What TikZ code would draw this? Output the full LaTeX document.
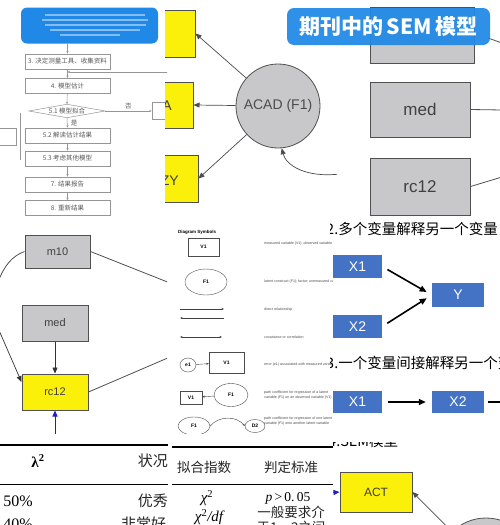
\documentclass[tikz,border=0pt]{standalone}
\usepackage{fontspec}
\setmainfont{Liberation Serif}
\newfontfamily\arial{Liberation Sans}
\newfontfamily\cjk{Noto Sans CJK SC}
\usetikzlibrary{arrows.meta,shapes.geometric}
\definecolor{semyellow}{RGB}{250,240,10}
\definecolor{semgray}{RGB}{200,200,202}
\definecolor{semedge}{RGB}{80,80,80}
\definecolor{titleblue}{RGB}{32,136,230}
\definecolor{boxblue}{RGB}{68,114,196}
\definecolor{flowline}{RGB}{150,150,150}
\definecolor{flowtext}{RGB}{90,90,90}
\definecolor{darkblue}{RGB}{30,30,200}
\begin{document}
\begin{tikzpicture}[x=1pt,y=-1pt,
  fbox/.style={draw=flowline, line width=0.5pt, minimum width=85pt, minimum height=15pt, inner sep=0pt, font=\cjk\fontsize{6.5}{7}\selectfont, text=flowtext},
  farr/.style={draw=flowline, line width=0.5pt, -{Stealth[length=2.5pt,width=2pt]}},
  yel/.style={draw=semedge, line width=1pt, fill=semyellow, inner sep=0pt, text=black!75},
  gry/.style={draw=semedge, line width=1pt, fill=semgray, inner sep=0pt, text=black!75},
  semline/.style={draw=semedge, line width=0.8pt},
  semarr/.style={draw=gray!60!black, line width=0.7pt, -{Triangle[length=6pt,width=5pt]}},
  bluearr/.style={draw=darkblue, line width=0.8pt, -{Triangle[length=6pt,width=5pt]}},
  bbox/.style={fill=boxblue, inner sep=0pt, text=white, font=\arial\fontsize{14}{16}\selectfont},
  barr/.style={line width=1.6pt, shorten >=6pt, shorten <=6pt, -{Triangle[length=7pt,width=6pt]}},
  leg/.style={font=\arial\fontsize{3.6}{4.2}\selectfont, text=black!70, anchor=west, inner sep=0pt, align=left},
  lbox/.style={draw=black!70, line width=0.4pt, inner sep=0pt, font=\arial\bfseries\fontsize{5}{6}\selectfont},
  lell/.style={draw=black!70, line width=0.4pt, ellipse, inner sep=0pt, font=\arial\bfseries\fontsize{5}{6}\selectfont},
  lnarr/.style={draw=black!75, line width=0.4pt, -{Stealth[length=2.5pt,width=2pt]}},
  cjkt/.style={font=\cjk\fontsize{14.5}{16}\selectfont, inner sep=0pt},
  tab/.style={font=\cjk\fontsize{13.5}{15}\selectfont, inner sep=0pt, text=black!85},
]
\useasboundingbox (0,0) rectangle (500,525);
\fill[white] (0,0) rectangle (500,525);

% ---------- Panel A: flowchart ----------
\begin{scope}
\clip (0,0) rectangle (167,224);
\node[fill=titleblue, rounded corners=6pt, minimum width=137pt, minimum height=36pt, inner sep=0pt] (blue) at (89.5,25.5) {};
\foreach \yy/\xa/\xb in {15/45/145, 20/42/148, 25/45/146, 30/50/140, 35/60/120}
  \draw[white, opacity=0.45, line width=1.2pt] (\xa,\yy) -- (\xb,\yy);
\node[fbox] (b3) at (67.5,61.5) {3. 决定测量工具、收集资料};
\node[fbox] (b4) at (67.5,86) {4. 模型估计};
\node[minimum width=76pt, minimum height=13pt, inner sep=0pt, font=\cjk\fontsize{6.5}{7}\selectfont, text=flowtext] (d51) at (67,111) {5.1 模型拟合};
\draw[flowline, line width=0.5pt] (d51.west) -- (d51.north) -- (d51.east) -- (d51.south) -- cycle;
\node[fbox] (b52) at (67.5,135.5) {5.2 解读估计结果};
\node[fbox] (b53) at (67.5,158.5) {5.3 考虑其他模型};
\node[fbox] (b7) at (67.5,184.5) {7. 结果报告};
\node[fbox] (b8) at (67.5,208) {8. 重新结果};
\node[fbox, minimum width=20pt, minimum height=17pt] (rbox) at (162,111) {};
\node[fbox, minimum width=20pt, minimum height=17pt] (lbox) at (6,136.5) {};
\draw[farr] (blue.south -| b3.north) -- (b3.north);
\draw[farr] (b3) -- (b4);
\draw[farr] (b4) -- (d51.north);
\draw[farr] (d51.south) -- (b52.north);
\draw[farr] (b52) -- (b53);
\draw[farr] (b53) -- (b7);
\draw[farr] (b7) -- (b8);
\draw[farr] (d51.east) -- node[above=2pt, font=\cjk\fontsize{6.5}{7}\selectfont, text=flowtext, inner sep=0pt] (no) {否} (rbox.west);
\node[font=\cjk\fontsize{6.5}{7}\selectfont, text=flowtext, inner sep=0pt] (yes) at (74,123) {是};
\coordinate (fb) at (168,72);
\draw[farr] (fb) -- (b3.south |- fb);
\draw[flowline, line width=0.5pt] (20,113) -- (20,160);
\end{scope}

% ---------- Panel B: ACAD ----------
\begin{scope}
\clip (165,0) rectangle (337,224);
\node[yel, minimum width=45pt, minimum height=47pt] (yb1) at (172.5,33.5) {};
\node[yel, minimum width=43pt, minimum height=46pt] (yb2) at (171.5,105) {};
\node[yel, minimum width=48pt, minimum height=47pt] (yb3) at (174,178.5) {};
\node[font=\arial\fontsize{14}{16}\selectfont, text=black!75, anchor=east, inner sep=0pt] (ta) at (172,106) {A};
\node[font=\arial\fontsize{14}{16}\selectfont, text=black!75, anchor=east, inner sep=0pt] (tzy) at (179,181) {ZY};
\node[circle, draw=semedge, line width=0.8pt, fill=semgray, minimum size=84pt, inner sep=0pt, font=\arial\fontsize{14}{16}\selectfont, text=black!70] (acad) at (278,106) {ACAD (F1)};
\draw[semarr] (acad) -- (yb1.east);
\draw[semarr] (acad) -- (yb2.east);
\draw[semarr] (acad) -- (yb3.east);
\coordinate (cv) at (340,174);
\draw[semarr] (cv) .. controls (305,178) and (286,165) .. (acad.-85);
\end{scope}

% ---------- Panel C: gray boxes ----------
\begin{scope}
\clip (335,0) rectangle (500,222);
\node[gry, minimum width=104pt, minimum height=56pt] (topc) at (422,35) {};
\node[gry, minimum width=100pt, minimum height=55pt, font=\arial\fontsize{17}{19}\selectfont] (medc) at (420,109.5) {med};
\node[gry, minimum width=100pt, minimum height=57pt, font=\arial\fontsize{17}{19}\selectfont] (rcc) at (420,186.5) {rc12};
\coordinate (e1) at (502,110);
\draw[semline] (medc.east) -- (e1);
\coordinate (e2) at (502,177);
\draw[semline] (rcc.east) -- (e2);
\coordinate (e3s) at (488,38);
\coordinate (e3) at (502,43);
\draw[semline] (e3s) -- (e3);
\end{scope}

% ---------- Panel D ----------
\begin{scope}
\clip (0,224) rectangle (167,433);
\node[gry, minimum width=65pt, minimum height=33pt, font=\arial\fontsize{11}{13}\selectfont] (m10) at (57.5,251.5) {m10};
\node[gry, minimum width=66pt, minimum height=36pt, font=\arial\fontsize{11}{13}\selectfont] (medd) at (55,323) {med};
\node[yel, minimum width=66pt, minimum height=36pt, font=\arial\fontsize{11}{13}\selectfont] (rcd) at (55,392) {rc12};
\draw[semarr, draw=black!80] (medd) -- (rcd);
\coordinate (dl) at (-2,282);
\draw[semline] (m10.west) .. controls (12,256) and (4,266) .. (dl);
\coordinate (dl2) at (-2,328);
\draw[semarr, draw=black!80] (dl2) -- ([yshift=10pt]rcd.west);
\coordinate (dr1) at (170,283);
\draw[semline] (m10.east) -- (dr1);
\coordinate (dr2) at (170,357);
\draw[semline] (rcd.east) -- (dr2);
\coordinate (db) at (55,436);
\draw[bluearr] (db) -- (rcd.south);
\end{scope}

% ---------- Panel E: legend ----------
\begin{scope}
\clip (167,222) rectangle (332,433);
\node[font=\arial\bfseries\fontsize{4.5}{5}\selectfont, anchor=west, inner sep=0pt] (dsym) at (178,232) {Diagram Symbols};
\node[lbox, minimum width=31pt, minimum height=18pt] (v1a) at (203.5,247) {V1};
\node[lell, minimum width=42pt, minimum height=26pt] (f1a) at (206,282) {F1};
\coordinate (da1) at (180,309); \coordinate (da2) at (224,309);
\draw[lnarr] (da1) -- (da2);
\coordinate (db1) at (224,318); \coordinate (db2) at (180,318);
\draw[lnarr] (db1) -- (db2);
\coordinate (dc1) at (180,337); \coordinate (dc2) at (222,337);
\draw[lnarr, {Stealth[length=2.5pt,width=2pt]}-{Stealth[length=2.5pt,width=2pt]}] (dc1) -- (dc2);
\node[lell, minimum width=16pt, minimum height=14pt] (e1n) at (188,365) {e1};
\node[lbox, minimum width=35pt, minimum height=21pt] (v1b) at (226.5,362.5) {V1};
\draw[lnarr] (e1n) -- (v1b);
\node[lbox, minimum width=22pt, minimum height=13pt] (v1c) at (191,397.5) {V1};
\node[lell, minimum width=34pt, minimum height=23pt] (f1c) at (231,395) {F1};
\draw[lnarr] (f1c) -- (v1c);
\node[lell, minimum width=32pt, minimum height=18pt] (f1d) at (194,426) {F1};
\node[lell, minimum width=20pt, minimum height=13pt] (f2d) at (255,426) {D2};
\draw[lnarr] (f1d.east) to[bend left=50] (f2d.west);
\node[leg] (l1) at (264,244) {measured variable (V1); observed variable};
\node[leg] (l2) at (264,282) {latent construct (F1); factor; unmeasured variable};
\node[leg] (l3) at (264,310) {direct relationship};
\node[leg] (l4) at (264,337) {covariance or correlation};
\node[leg] (l5) at (264,365) {error (e1) associated with measured variable};
\node[leg] (l6) at (264,395) {path coefficient for regression of a latent\\variable (F1) on an observed variable (V1)};
\node[leg] (l7) at (264,421) {path coefficient for regression of one latent\\variable (F1) onto another latent variable};
\end{scope}

% ---------- Panel F ----------
\begin{scope}
\clip (330,218) rectangle (500,440);
\node[cjkt, anchor=west] (t2) at (326,229) {2.多个变量解释另一个变量};
\node[bbox, minimum width=49pt, minimum height=23pt] (x1) at (357.5,266.5) {X1};
\node[bbox, minimum width=52pt, minimum height=24pt] (yy) at (458,295) {Y};
\node[bbox, minimum width=49pt, minimum height=23pt] (x2) at (357.5,326.5) {X2};
\draw[barr] (x1.east) -- (yy.west);
\draw[barr] (x2.east) -- (yy.west);
\node[cjkt, anchor=west] (t3) at (326,363) {3.一个变量间接解释另一个变量};
\node[bbox, minimum width=49pt, minimum height=22pt] (x1b) at (357.5,402) {X1};
\node[bbox, minimum width=52pt, minimum height=22pt] (x2b) at (458,402) {X2};
\draw[barr] (x1b) -- (x2b);
\coordinate (fx) at (502,402);
\draw[line width=1.6pt, shorten <=4pt] (x2b.east) -- (fx);
\end{scope}

% ---------- Panel G: table ----------
\begin{scope}
\clip (0,433) rectangle (168,525);
\draw[line width=1.2pt] (0,445) -- (168,445);
\node[font=\bfseries\fontsize{15}{16}\selectfont, inner sep=0pt] (lam) at (38,461) {λ\textsuperscript{2}};
\node[tab, font=\cjk\fontsize{15}{16}\selectfont, anchor=east] (zk) at (168,461) {状况};
\draw[line width=0.6pt] (0,484) -- (168,484);
\node[font=\fontsize{16}{17}\selectfont, anchor=east, inner sep=0pt] (p50) at (33,501) {50\%};
\node[tab, font=\cjk\fontsize{15}{16}\selectfont, anchor=east] (yx) at (168,501) {优秀};
\node[font=\fontsize{16}{17}\selectfont, anchor=east, inner sep=0pt] (p40) at (33,524) {40\%};
\node[tab, font=\cjk\fontsize{15}{16}\selectfont, anchor=west] (fch) at (121,524) {非常好};
\end{scope}

% ---------- Panel H: table ----------
\begin{scope}
\clip (168,433) rectangle (333,525);
\draw[line width=1.2pt] (172,447) -- (333,447);
\node[tab] (h1) at (204,467) {拟合指数};
\node[tab] (h2) at (291,467) {判定标准};
\draw[line width=0.6pt] (172,484) -- (333,484);
\node[font=\itshape\fontsize{15}{16}\selectfont, inner sep=0pt] (chi) at (207,498) {χ\textsuperscript{\upshape 2}};
\node[font=\fontsize{13.5}{15}\selectfont, inner sep=0pt] (pv) at (288,498) {\textit{p}\,>\,0.\,05};
\node[font=\itshape\fontsize{15}{16}\selectfont, inner sep=0pt] (chidf) at (209,517) {χ\textsuperscript{\upshape 2}/df};
\node[tab] (g1) at (291,512) {一般要求介};
\node[tab] (g2) at (291,527) {于1～2之间};
\end{scope}

% ---------- Panel I ----------
\begin{scope}
\clip (333,442) rectangle (500,525);
\node[cjkt, anchor=west] (t4) at (328,441) {4.SEM模型};
\node[yel, minimum width=72pt, minimum height=40pt, font=\arial\fontsize{12}{14}\selectfont] (act) at (376,492) {ACT};
\coordinate (ia) at (328,493);
\draw[bluearr] (ia) -- (act.west);
\node[circle, draw=semedge, line width=0.8pt, fill=semgray, minimum size=96pt, inner sep=0pt] (c2) at (486,566) {};
\draw[semarr] (c2) -- (act.east);
\end{scope}

% ---------- Title bubble ----------
\node[fill=titleblue, fill opacity=0.93, text opacity=1, rounded corners=7pt, minimum width=203pt, minimum height=37pt, text=white, font=\cjk\bfseries\fontsize{21}{24}\selectfont, inner sep=0pt] (title) at (388.5,26.5) {期刊中的\,SEM\,模型};
\end{tikzpicture}
\end{document}
